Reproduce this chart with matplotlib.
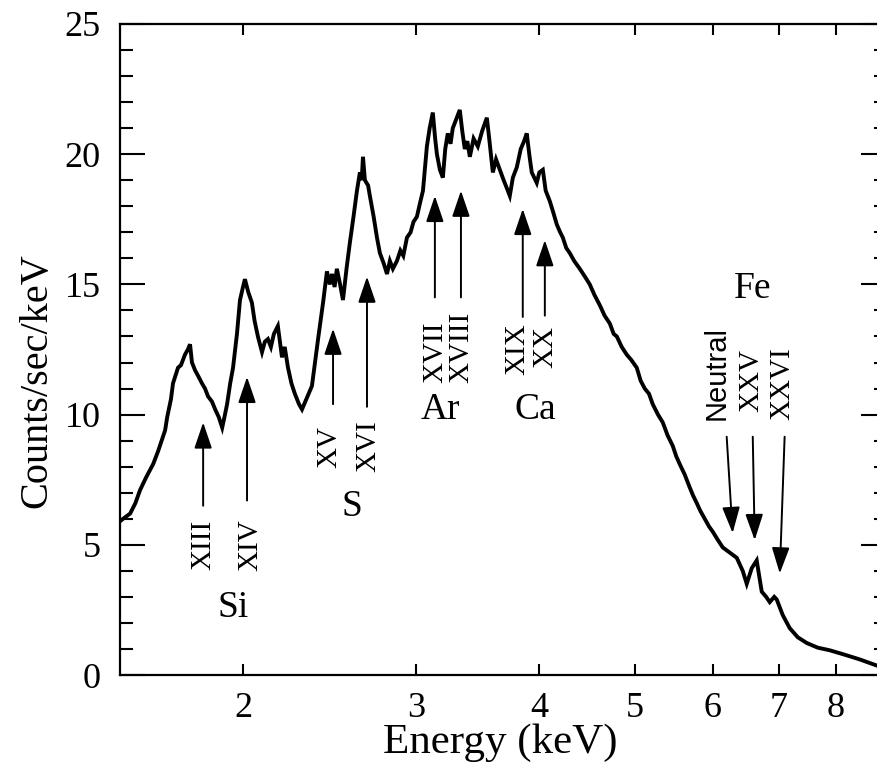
import numpy as np
import matplotlib
matplotlib.use("Agg")
import matplotlib.pyplot as plt
from matplotlib.ticker import FixedLocator, NullLocator, MultipleLocator

plt.rcParams['font.family'] = ['Liberation Serif', 'DejaVu Serif']

# spectrum (keV, counts/sec/keV)
energy = [1.50, 1.511, 1.536, 1.555, 1.572, 1.595, 1.621, 1.640, 1.667, 1.675,
          1.690, 1.698, 1.718, 1.730, 1.746, 1.758, 1.767, 1.775, 1.788, 1.800,
          1.817, 1.830, 1.843, 1.860, 1.874, 1.890, 1.905, 1.915, 1.927, 1.941,
          1.954, 1.972, 1.986, 2.000, 2.009, 2.025, 2.042, 2.055, 2.071, 2.091,
          2.105, 2.120, 2.135, 2.150, 2.170, 2.191, 2.205, 2.222, 2.240, 2.258,
          2.280, 2.296, 2.320, 2.350, 2.384, 2.412, 2.434, 2.450, 2.463, 2.478,
          2.491, 2.510, 2.527, 2.548, 2.568, 2.590, 2.611, 2.629, 2.640, 2.648,
          2.660, 2.680, 2.691, 2.715, 2.736, 2.755, 2.780, 2.801, 2.820, 2.840,
          2.867, 2.890, 2.910, 2.935, 2.960, 2.980, 3.004, 3.025, 3.047, 3.060,
          3.075, 3.095, 3.118, 3.135, 3.148, 3.170, 3.192, 3.210, 3.229, 3.250,
          3.267, 3.290, 3.321, 3.340, 3.360, 3.380, 3.400, 3.430, 3.464, 3.500,
          3.538, 3.560, 3.588, 3.615, 3.647, 3.680, 3.707, 3.733, 3.760, 3.795,
          3.830, 3.860, 3.884, 3.910, 3.930, 3.976, 4.000, 4.033, 4.060, 4.099,
          4.130, 4.167, 4.200, 4.226, 4.260, 4.296, 4.340, 4.397, 4.450, 4.501,
          4.550, 4.608, 4.660, 4.717, 4.760, 4.795, 4.850, 4.908, 4.960, 5.024,
          5.070, 5.119, 5.170, 5.215, 5.280, 5.339, 5.400, 5.465, 5.510, 5.555,
          5.620, 5.687, 5.730, 5.781, 5.830, 5.890, 5.950, 6.002, 6.070, 6.143,
          6.245, 6.348, 6.437, 6.498, 6.574, 6.651, 6.690, 6.730, 6.800, 6.857,
          6.930, 6.970, 7.069, 7.185, 7.321, 7.476, 7.671, 7.889, 8.170, 8.461,
          8.822, 9.0]
counts = [5.9, 6.0, 6.2, 6.6, 7.1, 7.6, 8.1, 8.6, 9.4, 9.9,
          10.6, 11.2, 11.8, 11.9, 12.3, 12.5, 12.7, 12.0, 11.7, 11.5,
          11.2, 11.0, 10.7, 10.5, 10.2, 9.9, 9.5, 9.9, 10.4, 11.2,
          11.8, 13.1, 14.4, 14.9, 15.2, 14.7, 14.3, 13.6, 13.0, 12.4,
          12.8, 12.9, 12.6, 13.1, 13.4, 12.2, 12.6, 11.8, 11.2, 10.8,
          10.4, 10.2, 10.6, 11.1, 12.9, 14.3, 15.5, 15.0, 15.4, 14.9,
          15.6, 15.0, 14.4, 15.6, 16.6, 17.6, 18.6, 19.3, 19.0, 19.9,
          19.0, 18.8, 18.4, 17.6, 16.8, 16.2, 15.8, 15.4, 15.9, 15.6,
          15.9, 16.3, 16.1, 16.8, 17.0, 17.4, 17.6, 18.1, 18.6, 19.4,
          20.3, 21.0, 21.6, 20.6, 20.0, 19.4, 19.1, 20.2, 20.8, 20.4,
          21.0, 21.3, 21.7, 20.9, 20.2, 20.5, 19.9, 20.6, 20.3, 20.9,
          21.4, 20.5, 19.3, 19.8, 19.4, 19.0, 18.7, 18.4, 19.1, 19.5,
          20.2, 20.5, 20.8, 19.9, 19.3, 18.9, 19.3, 19.4, 18.6, 18.2,
          17.8, 17.3, 17.0, 16.8, 16.4, 16.2, 15.9, 15.6, 15.3, 15.0,
          14.6, 14.2, 13.8, 13.5, 13.1, 13.0, 12.6, 12.3, 12.1, 11.8,
          11.3, 11.0, 10.8, 10.4, 10.0, 9.7, 9.2, 8.8, 8.4, 8.1,
          7.7, 7.2, 6.9, 6.6, 6.3, 6.0, 5.7, 5.5, 5.2, 4.9,
          4.7, 4.5, 4.0, 3.5, 4.1, 4.4, 3.8, 3.2, 3.0, 2.8,
          3.0, 2.9, 2.3, 1.8, 1.45, 1.23, 1.05, 0.95, 0.78, 0.6,
          0.35, 0.3]

# line identifications: label, arrow tail (E, y), arrow tip (E, y), label pos (E, y)
ion_labels = ['XIII', 'XIV', 'XV', 'XVI', 'XVII', 'XVIII', 'XIX', 'XX',
              'Neutral', 'XXV', 'XXVI']
tail_E = [1.822, 2.019, 2.469, 2.673, 3.133, 3.330, 3.848, 4.052, 6.20, 6.59, 7.10]
tail_y = [6.5, 6.7, 10.4, 10.3, 14.5, 14.5, 13.75, 13.8, 9.15, 9.15, 9.15]
tip_E = [1.822, 2.019, 2.469, 2.673, 3.133, 3.330, 3.848, 4.052, 6.287, 6.62, 7.02]
tip_y = [9.7, 11.45, 13.3, 15.3, 18.4, 18.6, 17.9, 16.7, 5.45, 5.18, 3.9]
lab_E = [1.822, 2.035, 2.45, 2.68, 3.133, 3.33, 3.80, 4.06, 6.058, 6.574, 7.07]
lab_y = [5.0, 5.0, 8.75, 8.8, 12.4, 12.6, 12.5, 12.6, 11.6, 11.3, 11.2]

elements = ['Si', 'S', 'Ar', 'Ca', 'Fe']
elem_E = [1.954, 2.581, 3.17, 3.967, 6.59]
elem_y = [2.6, 6.45, 10.2, 10.2, 14.85]

fig = plt.figure(figsize=(8.78, 7.74), dpi=100)
ax = fig.add_axes([120 / 878, 99 / 774, 766 / 878, 651 / 774])

ax.plot(energy, counts, color='black', lw=2.8, solid_joinstyle='miter')

for lab, e0, y0, e1, y1, le, ly in zip(ion_labels, tail_E, tail_y, tip_E, tip_y, lab_E, lab_y):
    ax.annotate('', xy=(e1, y1), xytext=(e0, y0),
                arrowprops=dict(arrowstyle='-|>,head_length=1.0,head_width=0.34',
                                color='black', lw=1.4, shrinkA=0, shrinkB=0,
                                mutation_scale=16))
    if lab == 'Neutral':
        ax.text(le, ly, lab, rotation=90, ha='center', va='center',
                fontsize=21, family=['Liberation Sans', 'DejaVu Sans'])
    else:
        ax.text(le, ly, lab, rotation=90, ha='center', va='center', fontsize=21)

for lab, e, y in zip(elements, elem_E, elem_y):
    ax.text(e, y, lab, ha='center', va='center', fontsize=27)

ax.set_xscale('log')
ax.set_xlim(1.5, 9.0)
ax.set_ylim(0, 25)

ax.xaxis.set_major_locator(FixedLocator([2, 3, 4, 5, 6, 7, 8]))
ax.xaxis.set_minor_locator(NullLocator())
ax.set_xticklabels(['2', '3', '4', '5', '6', '7', '8'])
ax.yaxis.set_major_locator(MultipleLocator(5))
ax.yaxis.set_minor_locator(MultipleLocator(1))

ax.tick_params(which='both', direction='in', top=True, right=True,
               labelsize=26, width=1.5)
ax.tick_params(axis='x', which='major', length=8, pad=12)
ax.tick_params(axis='y', which='major', length=18, pad=14)
ax.tick_params(axis='y', which='minor', length=9)
for s in ax.spines.values():
    s.set_linewidth(1.6)

ax.set_xlabel('Energy (keV)', fontsize=31)
ax.set_ylabel('Counts/sec/keV', fontsize=29)
ax.xaxis.set_label_coords(0.497, -0.074)
ax.xaxis.label.set_va('top')
ax.yaxis.set_label_coords(-0.108, 0.453)
ax.yaxis.label.set_va('center')

fig.savefig('out.png', dpi=100)
